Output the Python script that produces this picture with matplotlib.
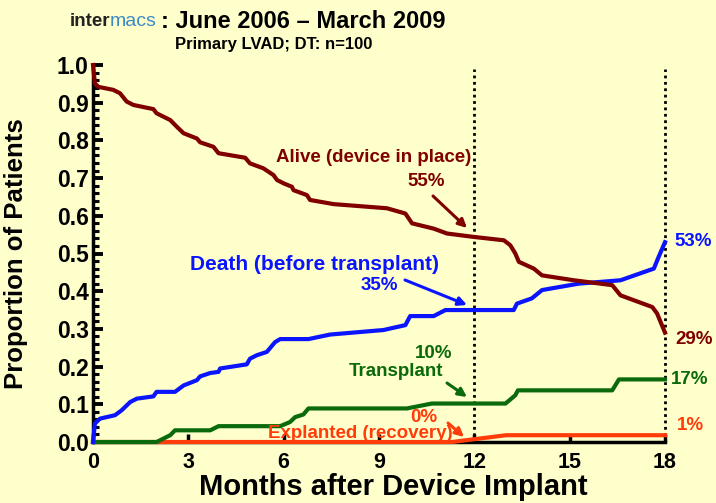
import matplotlib
matplotlib.use("Agg")
import matplotlib.pyplot as plt
from matplotlib.ticker import MultipleLocator

# ---- data ----
alive_t = [0, 0.06, 0.17, 0.64, 0.85, 1.06, 1.27, 1.9, 2.0, 2.43, 2.64, 2.85, 3.27, 3.37,
           3.79, 3.95, 4.79, 4.94, 5.36, 5.68, 5.79, 6.0, 6.26, 6.31, 6.73, 6.83, 7.57,
           9.25, 9.83, 10.04, 10.72, 11.14, 11.98, 12.93, 13.13, 13.29, 13.4, 13.87,
           14.13, 15.13, 16.34, 16.6, 17.6, 17.75, 18.0]
alive_v = [1.0, 0.951, 0.942, 0.934, 0.925, 0.903, 0.894, 0.883, 0.872, 0.854, 0.836,
           0.819, 0.805, 0.795, 0.783, 0.766, 0.754, 0.739, 0.726, 0.708, 0.695, 0.686,
           0.677, 0.668, 0.655, 0.642, 0.631, 0.620, 0.606, 0.580, 0.566, 0.553, 0.544,
           0.535, 0.522, 0.500, 0.478, 0.460, 0.442, 0.429, 0.416, 0.389, 0.358, 0.341,
           0.29]

death_t = [0, 0.06, 0.22, 0.69, 0.9, 1.17, 1.38, 1.9, 2.0, 2.58, 2.85, 3.27, 3.37, 3.69,
           3.95, 4.0, 4.84, 4.94, 5.15, 5.47, 5.73, 5.89, 6.78, 7.46, 9.14, 9.35, 9.83,
           9.98, 10.72, 11.09, 13.24, 13.34, 13.81, 14.13, 15.28, 16.6, 17.65, 17.8, 18.0]
death_v = [0, 0.049, 0.062, 0.071, 0.084, 0.106, 0.115, 0.121, 0.133, 0.133, 0.150,
           0.164, 0.174, 0.183, 0.186, 0.195, 0.206, 0.221, 0.230, 0.239, 0.265, 0.273,
           0.273, 0.285, 0.297, 0.301, 0.310, 0.334, 0.334, 0.350, 0.350, 0.367, 0.381,
           0.403, 0.420, 0.429, 0.460, 0.491, 0.53]

transplant_t = [0, 2.0, 2.43, 2.58, 3.69, 3.95, 5.89, 6.2, 6.36, 6.62, 6.78, 9.88, 10.66,
                12.98, 13.29, 13.37, 16.34, 16.55, 18.0]
transplant_v = [0, 0, 0.018, 0.031, 0.031, 0.042, 0.042, 0.053, 0.066, 0.073, 0.089,
                0.089, 0.102, 0.102, 0.124, 0.137, 0.137, 0.166, 0.166]

explant_t = [0, 11.3, 13.0, 18.0]
explant_v = [0, 0, 0.018, 0.018]

x_ticks = [0, 3, 6, 9, 12, 15, 18]
y_ticks = [0.0, 0.1, 0.2, 0.3, 0.4, 0.5, 0.6, 0.7, 0.8, 0.9, 1.0]
marker_months = [12, 18]

BG = "#FFFFCC"
C_ALIVE = "#800000"
C_DEATH = "#0A14FF"
C_TX = "#0B6A0B"
C_EXP = "#FF3C0A"

W, H = 716, 503
plt.rcParams['font.family'] = ['Liberation Sans', 'DejaVu Sans']
plt.rcParams['font.weight'] = 'bold'

fig = plt.figure(figsize=(W / 100, H / 100), dpi=100, facecolor=BG)
AX_L, AX_R, AX_B, AX_T = 93, 665, 442, 65
ax = fig.add_axes([AX_L / W, 1 - AX_B / H, (AX_R - AX_L) / W, (AX_B - AX_T) / H])
ax.set_facecolor(BG)

lw = 3.0
ax.plot(explant_t, explant_v, color=C_EXP, lw=lw, clip_on=False, zorder=3, solid_joinstyle='round')
ax.plot(transplant_t, transplant_v, color=C_TX, lw=lw, clip_on=False, zorder=4, solid_joinstyle='round')
ax.plot(death_t, death_v, color=C_DEATH, lw=lw, clip_on=False, zorder=5, solid_joinstyle='round')
ax.plot(alive_t, alive_v, color=C_ALIVE, lw=lw, clip_on=False, zorder=6, solid_joinstyle='round')

for m in marker_months:
    ax.plot([m, m], [0, 0.99], color='black', lw=2, ls=(0, (1, 1.3)), zorder=2, clip_on=False)

ax.set_xlim(0, 18)
ax.set_ylim(0, 1.0)
ax.set_xticks(x_ticks)
ax.set_yticks(y_ticks)
ax.set_yticklabels([f"{v:.1f}" for v in y_ticks])
ax.yaxis.set_minor_locator(MultipleLocator(0.02))
for s in ['top', 'right']:
    ax.spines[s].set_visible(False)
ax.spines['left'].set_linewidth(2.5)
ax.spines['bottom'].set_linewidth(2.5)
ax.tick_params(axis='y', which='major', direction='in', length=7, width=2.8, pad=3,
               labelsize=16.5)
ax.tick_params(axis='y', which='minor', direction='in', length=4, width=2.2)
ax.tick_params(axis='x', which='major', direction='in', length=6, width=2.5, pad=7,
               labelsize=15.5)
for lab in ax.get_xticklabels() + ax.get_yticklabels():
    lab.set_fontweight('bold')

ax.set_xlabel("Months after Device Implant", fontsize=21, fontweight='bold')
ax.xaxis.set_label_coords((393 - AX_L) / (AX_R - AX_L), (AX_B - 473) / (AX_B - AX_T))
ax.set_ylabel("Proportion of Patients", fontsize=18.5, fontweight='bold')
ax.yaxis.set_label_coords((28 - AX_L) / (AX_R - AX_L), (AX_B - 254) / (AX_B - AX_T))


def ftext(x, y, s, **kw):
    fig.text(x / W, 1 - y / H, s, ha=kw.pop('ha', 'center'), va=kw.pop('va', 'center'),
             fontweight=kw.pop('fontweight', 'bold'), **kw)


def farrow(x0, y0, x1, y1, color):
    fig.add_artist(matplotlib.patches.FancyArrowPatch(
        (x0 / W, 1 - y0 / H), (x1 / W, 1 - y1 / H), transform=fig.transFigure,
        arrowstyle='-|>,head_length=5,head_width=2.5', color=color, lw=2.2,
        shrinkA=0, shrinkB=0))


ftext(374, 158, "Alive (device in place)", color=C_ALIVE, fontsize=13.5)
ftext(426, 182, "55%", color=C_ALIVE, fontsize=13.5)
farrow(433, 196, 467, 228, C_ALIVE)

ftext(315, 265, "Death (before transplant)", color=C_DEATH, fontsize=15)
ftext(379, 286, "35%", color=C_DEATH, fontsize=13.5)
farrow(405, 280, 467, 305, C_DEATH)

ftext(434, 354, "10%", color=C_TX, fontsize=13.5)
ftext(396, 372, "Transplant", color=C_TX, fontsize=13.5)
farrow(447, 383, 467, 397, C_TX)

ftext(424, 417, "0%", color=C_EXP, fontsize=13.5)
ftext(360, 433, "Explanted (recovery)", color=C_EXP, fontsize=13.5)
farrow(448, 423, 464, 437, C_EXP)

ftext(693, 241, "53%", color=C_DEATH, fontsize=13.5)
ftext(694, 340, "29%", color=C_ALIVE, fontsize=13.5)
ftext(690, 380, "17%", color=C_TX, fontsize=13.5)
ftext(690, 425, "1%", color=C_EXP, fontsize=13.5)

# ---- title block ----
ftext(70, 26, "inter", color="#222222", fontsize=13.5, ha='left', va='baseline')
ftext(110, 26, "macs", color="#3C8AC8", fontsize=14, ha='left', va='baseline',
      fontweight='normal')
ftext(161, 28, ": June 2006 \u2013 March 2009", color="black", fontsize=17, ha='left',
      va='baseline')
ftext(274, 44, "Primary LVAD; DT: n=100", color="black", fontsize=12)

fig.savefig("out.png", dpi=100, facecolor=BG)
